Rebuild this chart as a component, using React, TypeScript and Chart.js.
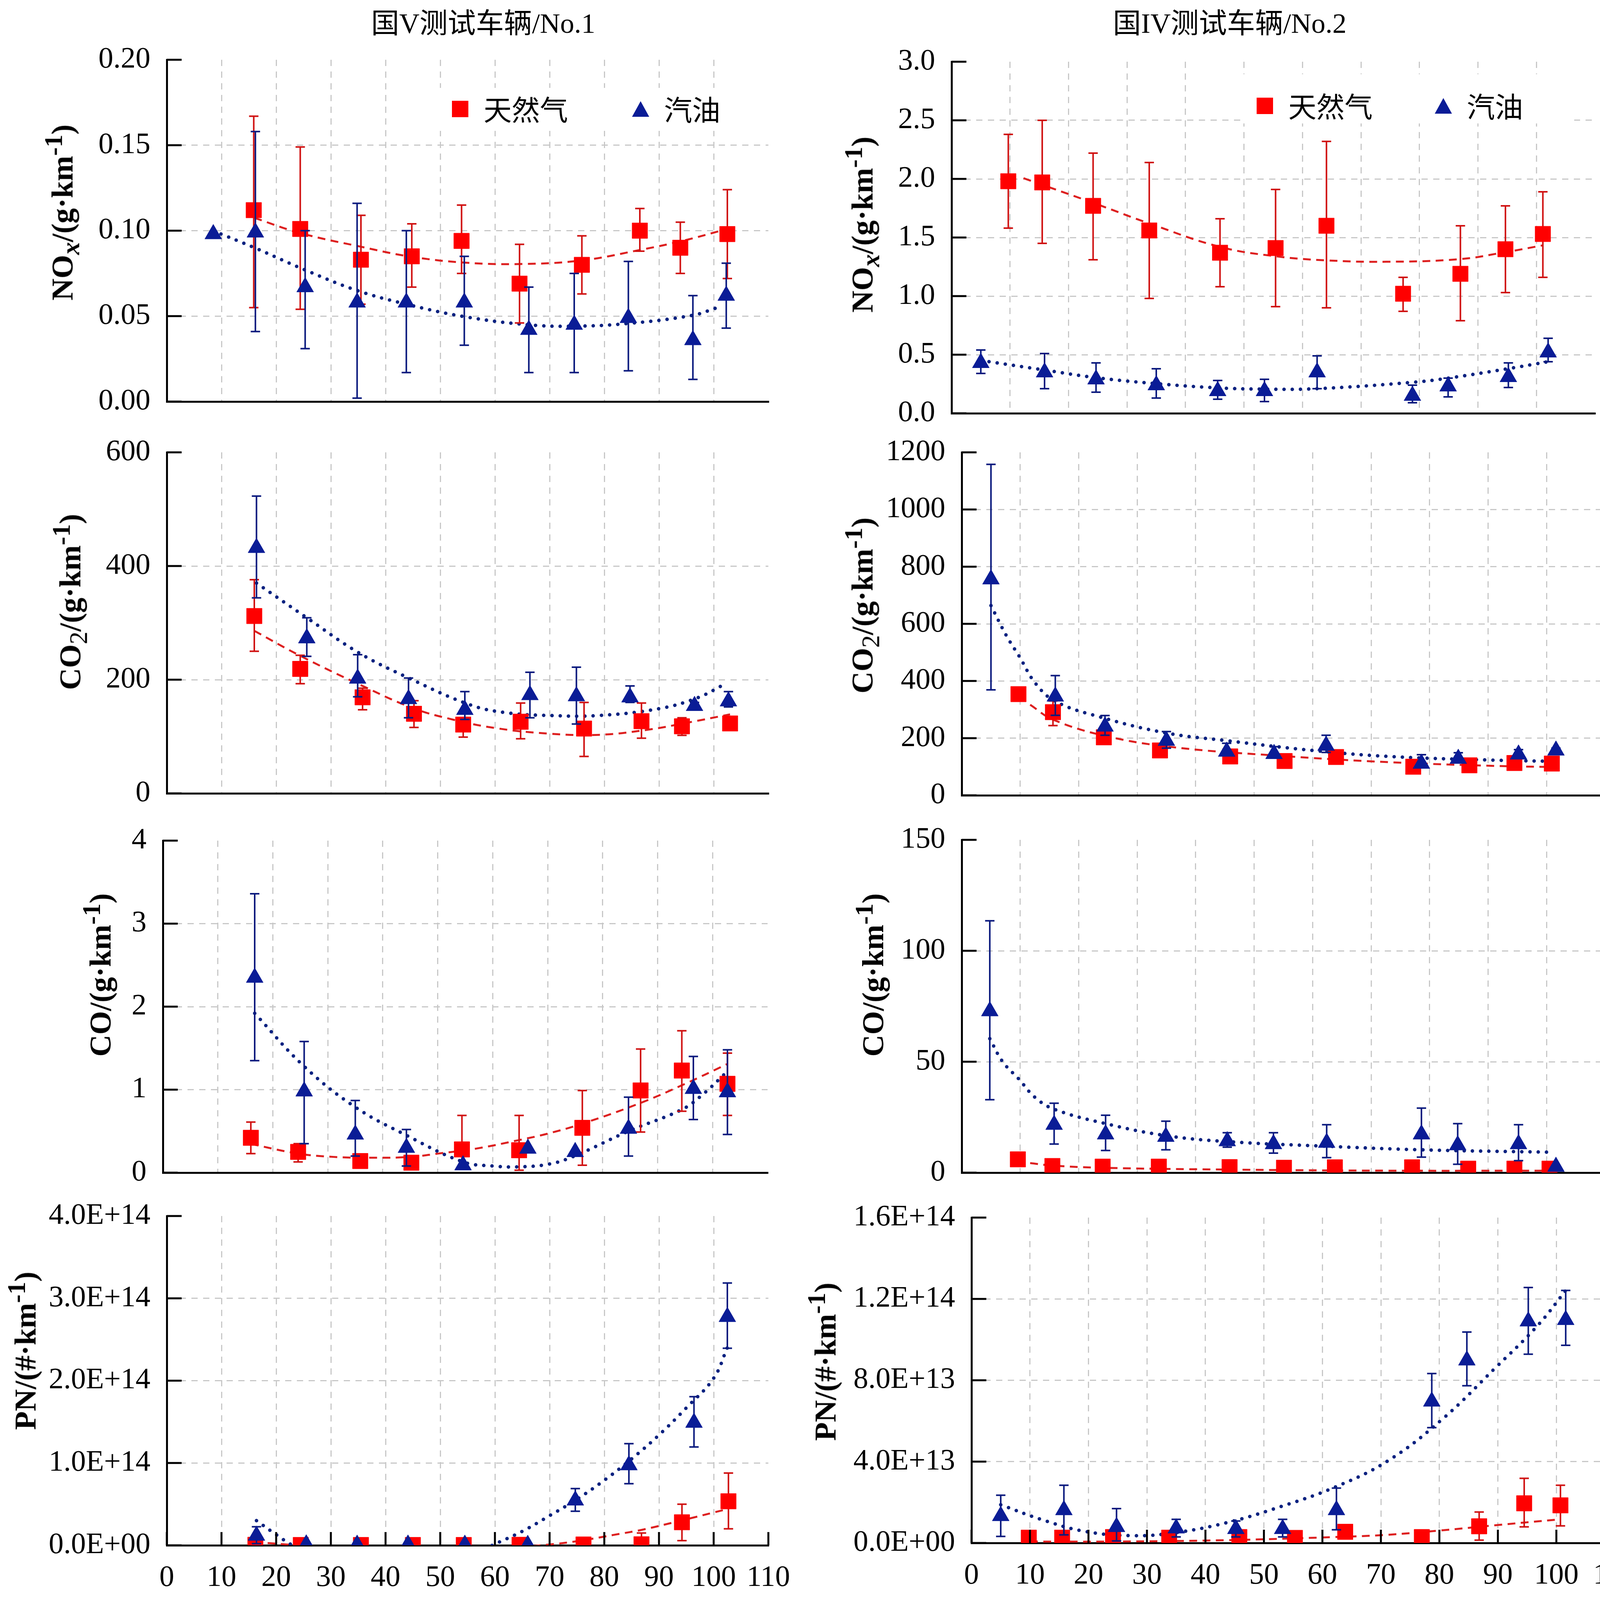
import { useEffect, useRef } from "react";
import { Chart, registerables } from "chart.js";

Chart.register(...registerables);

// x 轴刻度：车速
const speedTicks = [0, 10, 20, 30, 40, 50, 60, 70, 80, 90, 100, 110];

// 每个点: [车速, 均值, 下限, 上限]（没有误差线的点只有前两项）
// ---- NOx ----
const noxV_gas = [
  [15.9, 0.112, 0.055, 0.167], [24.4, 0.101, 0.054, 0.149], [35.5, 0.083, 0.057, 0.109],
  [44.8, 0.085, 0.067, 0.104], [53.9, 0.094, 0.075, 0.115], [64.5, 0.069, 0.046, 0.092],
  [75.9, 0.080, 0.063, 0.097], [86.5, 0.100, 0.088, 0.113], [93.9, 0.090, 0.075, 0.105],
  [102.5, 0.098, 0.072, 0.124],
];
const noxV_petrol = [
  [8.5, 0.098], [16.2, 0.099, 0.041, 0.158], [25.3, 0.067, 0.031, 0.100],
  [34.8, 0.058, 0.002, 0.116], [43.8, 0.058, 0.017, 0.100], [54.4, 0.058, 0.033, 0.085],
  [66.2, 0.042, 0.017, 0.067], [74.5, 0.045, 0.017, 0.075], [84.4, 0.049, 0.018, 0.082],
  [96.2, 0.036, 0.013, 0.062], [102.3, 0.062, 0.043, 0.081],
];
const noxV_gasFit = [
  [16, 0.1075], [24.4, 0.0986], [35.5, 0.0906], [44.8, 0.0847], [55, 0.0812], [65, 0.0805],
  [75.9, 0.0826], [86.5, 0.0887], [94, 0.0938], [102.5, 0.101],
];
const noxV_petrolFit = [
  [8.5, 0.0999], [16.2, 0.0898], [25.3, 0.077], [34.8, 0.065], [43.8, 0.057], [54.4, 0.0497],
  [66.2, 0.0449], [74.5, 0.0441], [84.4, 0.0457], [96.2, 0.0505], [100.5, 0.0548],
];

const noxIV_gas = [
  [9.7, 1.98, 1.58, 2.38], [15.5, 1.97, 1.45, 2.5], [24.2, 1.77, 1.31, 2.22],
  [33.8, 1.56, 0.98, 2.14], [45.9, 1.37, 1.08, 1.66], [55.4, 1.41, 0.91, 1.91],
  [64.1, 1.6, 0.9, 2.32], [77.2, 1.02, 0.87, 1.16], [87.0, 1.19, 0.79, 1.6],
  [94.7, 1.4, 1.03, 1.77], [101.1, 1.53, 1.16, 1.89],
];
const noxIV_petrol = [
  [5.0, 0.43, 0.34, 0.54], [15.9, 0.35, 0.21, 0.51], [24.7, 0.29, 0.18, 0.43],
  [35.0, 0.24, 0.13, 0.38], [45.5, 0.19, 0.12, 0.28], [53.5, 0.19, 0.1, 0.29],
  [62.5, 0.35, 0.21, 0.49], [78.8, 0.15, 0.09, 0.24], [84.9, 0.23, 0.14, 0.3],
  [95.2, 0.31, 0.22, 0.43], [102.0, 0.52, 0.44, 0.64],
];
const noxIV_gasFit = [
  [12.3, 2.006], [24.2, 1.796], [33.8, 1.62], [45.9, 1.42], [55.4, 1.34], [64.1, 1.305],
  [74.3, 1.293], [87, 1.316], [94.7, 1.375], [101.1, 1.433],
];
const noxIV_petrolFit = [
  [5, 0.451], [15.9, 0.369], [24.7, 0.304], [35, 0.253], [45.5, 0.217], [53.5, 0.206],
  [62.5, 0.21], [78.8, 0.264], [84.9, 0.3], [95.2, 0.381], [102, 0.44],
];

// ---- CO2 ----
const co2V_gas = [
  [16.0, 312, 250, 376], [24.4, 219, 193, 243], [35.8, 169, 147, 185], [45.2, 140, 116, 163],
  [54.2, 121, 99, 133], [64.7, 126, 96, 159], [76.3, 114, 65, 160], [86.8, 127, 97, 159],
  [94.2, 118, 102, 133], [103.0, 123],
];
const co2V_petrol = [
  [16.4, 432, 344, 523], [25.6, 273, 241, 309], [34.9, 202, 170, 244], [44.2, 166, 133, 203],
  [54.5, 147, 130, 179], [66.4, 173, 133, 213], [74.9, 171, 122, 222], [84.7, 169, 160, 189],
  [96.5, 154, 150, 160], [102.7, 162, 152, 179],
];
const co2V_gasFit = [
  [16, 286], [24.4, 242], [35.8, 189], [45, 150], [51.8, 131], [60, 115], [70, 105],
  [79, 103], [88, 112], [95, 124], [103, 139],
];
const co2V_petrolFit = [
  [16.4, 370], [25.6, 309], [35, 248], [44, 204], [55.4, 156], [62, 142], [70, 137],
  [79, 137], [90, 149], [97, 168], [102, 192],
];

const co2IV_gas = [
  [9.7, 354], [15.6, 291, 244, 330], [24.3, 203], [33.9, 157], [45.9, 136], [55.2, 120],
  [64.0, 134], [77.2, 100], [86.8, 105], [94.5, 113], [100.9, 111],
];
const co2IV_petrol = [
  [5.0, 756, 369, 1158], [16.0, 346, 280, 419], [24.5, 241, 210, 279], [35.0, 191, 165, 223],
  [45.3, 153, 140, 182], [53.4, 145, 130, 170], [62.3, 174, 150, 210], [78.6, 111, 100, 142],
  [84.9, 128, 115, 149], [95.2, 143, 130, 160], [101.6, 157, 150, 165],
];
const co2IV_gasFit = [
  [11.7, 317], [15.6, 265], [24.5, 208], [36.3, 168], [54.6, 138], [73, 116], [91, 103], [101, 99],
];
const co2IV_petrolFit = [
  [5, 664], [7.6, 560], [9.9, 484], [12.6, 392], [16, 329], [23.5, 275], [35, 218],
  [45.4, 191], [60, 157], [73, 136], [91, 123], [101, 119],
];

// ---- CO ----
const coV_gas = [
  [16.0, 0.42, 0.23, 0.61], [24.6, 0.25, 0.13, 0.35], [35.9, 0.14], [45.2, 0.12],
  [54.4, 0.28, 0.05, 0.69], [64.8, 0.27, 0.03, 0.69], [76.3, 0.54, 0.09, 0.99],
  [86.9, 0.99, 0.49, 1.49], [94.4, 1.23, 0.74, 1.71], [102.7, 1.07, 0.69, 1.44],
];
const coV_petrol = [
  [16.7, 2.35, 1.35, 3.36], [25.7, 0.98, 0.35, 1.58], [35.0, 0.46, 0.2, 0.87],
  [44.3, 0.3, 0.08, 0.52], [54.6, 0.09], [66.4, 0.29], [75.0, 0.25],
  [84.7, 0.53, 0.2, 0.91], [96.5, 1.01, 0.64, 1.4], [102.7, 0.97, 0.46, 1.48],
];
const coV_gasFit = [
  [16, 0.346], [24.6, 0.23], [31, 0.19], [38.4, 0.18], [45, 0.19], [50.1, 0.23], [57, 0.29],
  [64.6, 0.39], [70, 0.47], [76.3, 0.59], [86.9, 0.84], [95, 1.07], [102.7, 1.31],
];
const coV_petrolFit = [
  [16.7, 1.92], [25.7, 1.28], [35, 0.79], [44.3, 0.45], [54.6, 0.13], [60, 0.08], [64.6, 0.07],
  [70, 0.1], [74.5, 0.19], [84.7, 0.5], [94.4, 0.76], [98, 0.93], [102.7, 1.22],
];

const coIV_gas = [
  [9.6, 6.0], [15.5, 3.0], [24.1, 2.7], [33.7, 2.7], [45.8, 2.5], [55.1, 2.2],
  [63.8, 2.4], [77.0, 2.4], [86.6, 1.8], [94.5, 1.8], [100.5, 1.8],
];
const coIV_petrol = [
  [4.8, 72.8, 32.9, 113.5], [15.8, 21.6, 12.9, 31.3], [24.6, 17.3, 10.0, 25.9],
  [34.9, 16.2, 10.3, 23.2], [45.4, 14.2, 11.5, 18.0], [53.3, 12.9, 8.8, 18.0],
  [62.4, 13.5, 6.8, 21.6], [78.6, 17.3, 7.0, 29.1], [84.8, 12.4, 3.8, 22.1],
  [95.2, 12.9, 5.4, 21.6], [101.6, 2.7],
];
const coIV_gasFit = [[11.7, 4.3], [15.5, 3.2], [24.1, 2.2], [45, 1.4], [73, 0.9], [101, 0.9]];
const coIV_petrolFit = [
  [4.8, 60.4], [7, 50], [9.8, 42.1], [12.5, 34], [15.8, 28.6], [24.6, 22.1], [34.9, 16.7],
  [45.4, 14.0], [62.4, 11.9], [78.6, 10.3], [101, 9.2],
];

// ---- PN ----
const pnV_gas = [
  [16.2, 0.006e14], [24.5, 0.004e14], [35.5, 0.004e14], [45.0, 0.004e14], [54.3, 0.004e14],
  [64.5, 0.006e14], [76.2, 0.01e14], [86.8, 0.012e14, 0.0, 0.15e14],
  [94.2, 0.28e14, 0.057e14, 0.5e14], [102.7, 0.535e14, 0.2e14, 0.878e14],
];
const pnV_petrol = [
  [16.4, 0.118e14, 0.02e14, 0.225e14], [25.5, 0.012e14], [34.8, 0.008e14], [44.1, 0.01e14],
  [54.5, 0.008e14], [66.0, 0.006e14], [74.7, 0.546e14, 0.414e14, 0.689e14],
  [84.5, 0.974e14, 0.749e14, 1.235e14], [96.4, 1.49e14, 1.195e14, 1.806e14],
  [102.5, 2.775e14, 2.394e14, 3.186e14],
];
const pnV_gasFit = [
  [16, 0.04e14], [22, 0.01e14], [30, -0.03e14], [45, -0.06e14], [60, -0.04e14], [70, 0.01e14],
  [76, 0.06e14], [82, 0.13e14], [87, 0.19e14], [94, 0.3e14], [102.5, 0.44e14],
];
const pnV_petrolFit = [
  [16.4, 0.3e14], [20, 0.13e14], [23, 0.0], [30, -0.22e14], [40, -0.38e14], [50, -0.3e14],
  [59.5, 0.0], [65, 0.17e14], [70, 0.36e14], [75, 0.56e14], [80, 0.79e14], [85, 1.05e14],
  [90, 1.34e14], [95, 1.67e14], [100, 2.03e14], [102.5, 2.4e14],
];

const pnIV_gas = [
  [9.8, 0.026e14], [15.5, 0.026e14], [24.2, 0.029e14], [33.8, 0.026e14], [45.8, 0.029e14],
  [55.3, 0.025e14], [63.9, 0.055e14], [77.0, 0.029e14], [86.8, 0.082e14, 0.014e14, 0.152e14],
  [94.5, 0.195e14, 0.079e14, 0.318e14], [100.7, 0.185e14, 0.084e14, 0.284e14],
];
const pnIV_petrol = [
  [5.0, 0.133e14, 0.032e14, 0.235e14], [15.8, 0.162e14, 0.04e14, 0.284e14],
  [24.8, 0.079e14, 0.01e14, 0.169e14], [35.0, 0.072e14, 0.03e14, 0.116e14],
  [45.2, 0.069e14, 0.03e14, 0.108e14], [53.2, 0.069e14, 0.03e14, 0.116e14],
  [62.4, 0.162e14, 0.065e14, 0.27e14], [78.7, 0.696e14, 0.567e14, 0.833e14],
  [84.7, 0.898e14, 0.773e14, 1.037e14], [95.2, 1.09e14, 0.928e14, 1.256e14],
  [101.6, 1.097e14, 0.972e14, 1.242e14],
];
const pnIV_gasFit = [
  [10, 0.007e14], [25, 0.007e14], [43.8, 0.014e14], [62, 0.029e14], [71, 0.04e14],
  [80, 0.061e14], [89.5, 0.087e14], [100.5, 0.116e14],
];
const pnIV_petrolFit = [
  [5, 0.188e14], [11.9, 0.116e14], [19.2, 0.058e14], [27.4, 0.036e14], [34.7, 0.05e14],
  [43.8, 0.101e14], [53, 0.18e14], [62.1, 0.274e14], [71.2, 0.404e14], [80.4, 0.606e14],
  [89.5, 0.859e14], [96.8, 1.069e14], [101.8, 1.249e14],
];

// y 轴刻度与标签
const noxVTicks = [0, 0.05, 0.1, 0.15, 0.2];
const noxVLabels = ["0.00", "0.05", "0.10", "0.15", "0.20"];
const noxIVTicks = [0, 0.5, 1, 1.5, 2, 2.5, 3];
const noxIVLabels = ["0.0", "0.5", "1.0", "1.5", "2.0", "2.5", "3.0"];
const co2VTicks = [0, 200, 400, 600];
const co2VLabels = ["0", "200", "400", "600"];
const co2IVTicks = [0, 200, 400, 600, 800, 1000, 1200];
const co2IVLabels = ["0", "200", "400", "600", "800", "1000", "1200"];
const coVTicks = [0, 1, 2, 3, 4];
const coVLabels = ["0", "1", "2", "3", "4"];
const coIVTicks = [0, 50, 100, 150];
const coIVLabels = ["0", "50", "100", "150"];
const pnVTicks = [0, 1e14, 2e14, 3e14, 4e14];
const pnVLabels = ["0.0E+00", "1.0E+14", "2.0E+14", "3.0E+14", "4.0E+14"];
const pnIVTicks = [0, 4e13, 8e13, 1.2e14, 1.6e14];
const pnIVLabels = ["0.0E+00", "4.0E+13", "8.0E+13", "1.2E+14", "1.6E+14"];

const GAS = { fill: "#ff0000", err: "#d01212", fit: "#dd1f1f" };
const PETROL = { fill: "#0a1c96", err: "#0b1a7e", fit: "#0a2280" };
const GRID = "#c8c8c8";
const SERIF = "'Liberation Serif', 'Times New Roman', 'Noto Sans CJK SC', serif";

// 误差线：在对应数据集绘制前画出
const errorBars = {
  id: "errorBars",
  beforeDatasetDraw(chart: any, args: any) {
    const ds = chart.data.datasets[args.index];
    if (!ds.errPts) return;
    const { ctx, chartArea: a } = chart;
    const x = chart.scales.x;
    const y = chart.scales.y;
    ctx.save();
    ctx.beginPath();
    ctx.rect(a.left, a.top, a.right - a.left, a.bottom - a.top);
    ctx.clip();
    ctx.strokeStyle = ds.errColor;
    ctx.lineWidth = 4;
    ds.errPts.forEach((p: number[]) => {
      if (p.length < 4) return;
      const px = x.getPixelForValue(p[0]);
      const lo = y.getPixelForValue(p[2]);
      const hi = y.getPixelForValue(p[3]);
      ctx.beginPath();
      ctx.moveTo(px, lo);
      ctx.lineTo(px, hi);
      ctx.moveTo(px - 12, lo);
      ctx.lineTo(px + 12, lo);
      ctx.moveTo(px - 12, hi);
      ctx.lineTo(px + 12, hi);
      ctx.stroke();
    });
    ctx.restore();
  },
};

// 朝内的刻度线
const innerTicks = {
  id: "innerTicks",
  afterDraw(chart: any, _args: any, opts: any) {
    const { ctx, chartArea: a } = chart;
    const x = chart.scales.x;
    const y = chart.scales.y;
    ctx.save();
    ctx.strokeStyle = "#000";
    ctx.lineWidth = 5;
    ctx.beginPath();
    y.ticks.forEach((t: any) => {
      const py = y.getPixelForValue(t.value);
      ctx.moveTo(a.left, py);
      ctx.lineTo(a.left + 38, py);
    });
    if (opts.showX) {
      x.ticks.forEach((t: any) => {
        const px = x.getPixelForValue(t.value);
        ctx.moveTo(px, a.bottom);
        ctx.lineTo(px, a.bottom - 34);
      });
    }
    ctx.stroke();
    ctx.restore();
  },
};

const toXY = (pts: number[][]) => pts.map((p) => ({ x: p[0], y: p[1] }));

function markers(pts: number[][], c: any, style: string, radius: number, order: number) {
  return {
    type: "scatter",
    data: toXY(pts),
    errPts: pts,
    errColor: c.err,
    pointStyle: style,
    pointRadius: radius,
    pointHoverRadius: radius,
    backgroundColor: c.fill,
    borderColor: c.fill,
    borderWidth: 1,
    clip: 0,
    order,
  };
}

function fitLine(pts: number[][], c: any, dotted: boolean, order: number) {
  return {
    type: "scatter",
    data: toXY(pts),
    showLine: true,
    pointRadius: 0,
    borderColor: c.fit,
    borderWidth: dotted ? 9 : 5,
    borderDash: dotted ? [0.1, 21] : [20, 14],
    borderCapStyle: dotted ? "round" : "butt",
    tension: 0.4,
    fill: false,
    clip: 0,
    order,
  };
}

// 画布四周留白（y 轴标签占用的内边距约 88px）
const ML = 330;
const MT = 100;
const MR = 120;

type PanelProps = {
  rect: { left: number; top: number; right: number; bottom: number };
  gas: number[][];
  petrol: number[][];
  gasFit: number[][];
  petrolFit: number[][];
  yTicks: number[];
  yLabels: string[];
  showX: boolean;
};

function Panel({ rect, gas, petrol, gasFit, petrolFit, yTicks, yLabels, showX }: PanelProps) {
  const canvasRef = useRef<HTMLCanvasElement | null>(null);
  const MB = showX ? 160 : 100;
  const width = rect.right - rect.left + ML + MR;
  const height = rect.bottom - rect.top + MT + MB;

  useEffect(() => {
    if (!canvasRef.current) return;
    const tickFont = { family: SERIF, size: 76 };
    const chart = new Chart(canvasRef.current, {
      type: "scatter",
      data: {
        datasets: [
          markers(petrol, PETROL, "triangle", 25, 0),
          markers(gas, GAS, "rect", 28, 1),
          fitLine(petrolFit, PETROL, true, 2),
          fitLine(gasFit, GAS, false, 3),
        ] as any,
      },
      options: {
        responsive: false,
        animation: false,
        devicePixelRatio: 1,
        events: [],
        layout: { padding: { left: 0, top: MT, right: MR, bottom: 0 } },
        plugins: {
          legend: { display: false },
          tooltip: { enabled: false },
          innerTicks: { showX },
        } as any,
        scales: {
          x: {
            type: "linear",
            min: 0,
            max: 110,
            afterBuildTicks: (s: any) => {
              s.ticks = speedTicks.map((v) => ({ value: v }));
            },
            afterFit: (s: any) => {
              s.height = MB;
            },
            grid: {
              color: (c: any) =>
                c.tick && (c.tick.value === 0 || c.tick.value === 110) ? "rgba(0,0,0,0)" : GRID,
              lineWidth: 3,
              drawTicks: false,
            },
            border: { display: true, color: "#000", width: 5, dash: [16, 14] },
            ticks: {
              display: showX,
              padding: 38,
              color: "#000",
              font: tickFont,
              autoSkip: false,
              maxRotation: 0,
              callback: (v: any) => String(v),
            },
          },
          y: {
            type: "linear",
            min: 0,
            max: yTicks[yTicks.length - 1],
            afterBuildTicks: (s: any) => {
              s.ticks = yTicks.map((v) => ({ value: v }));
            },
            afterFit: (s: any) => {
              s.width = ML;
            },
            grid: {
              color: (c: any) =>
                c.tick && (c.tick.value === 0 || c.tick.value === yTicks[yTicks.length - 1])
                  ? "rgba(0,0,0,0)"
                  : GRID,
              lineWidth: 3,
              drawTicks: false,
            },
            border: { display: true, color: "#000", width: 5, dash: [16, 14] },
            ticks: {
              padding: 42,
              color: "#000",
              font: tickFont,
              autoSkip: false,
              callback: (_v: any, i: number) => yLabels[i],
            },
          },
        },
      } as any,
      plugins: [errorBars, innerTicks],
    });
    return () => chart.destroy();
  }, []);

  return (
    <canvas
      ref={canvasRef}
      width={width}
      height={height}
      style={{ position: "absolute", left: rect.left - ML, top: rect.top - MT, width, height }}
    />
  );
}

const panels: PanelProps[] = [
  { rect: { left: 427, top: 153, right: 1967, bottom: 1028 }, gas: noxV_gas, petrol: noxV_petrol, gasFit: noxV_gasFit, petrolFit: noxV_petrolFit, yTicks: noxVTicks, yLabels: noxVLabels, showX: false },
  { rect: { left: 2436, top: 158, right: 4083, bottom: 1058 }, gas: noxIV_gas, petrol: noxIV_petrol, gasFit: noxIV_gasFit, petrolFit: noxIV_petrolFit, yTicks: noxIVTicks, yLabels: noxIVLabels, showX: false },
  { rect: { left: 427, top: 1158, right: 1967, bottom: 2031 }, gas: co2V_gas, petrol: co2V_petrol, gasFit: co2V_gasFit, petrolFit: co2V_petrolFit, yTicks: co2VTicks, yLabels: co2VLabels, showX: false },
  { rect: { left: 2462, top: 1158, right: 4109, bottom: 2036 }, gas: co2IV_gas, petrol: co2IV_petrol, gasFit: co2IV_gasFit, petrolFit: co2IV_petrolFit, yTicks: co2IVTicks, yLabels: co2IVLabels, showX: false },
  { rect: { left: 417, top: 2152, right: 1965, bottom: 3002 }, gas: coV_gas, petrol: coV_petrol, gasFit: coV_gasFit, petrolFit: coV_petrolFit, yTicks: coVTicks, yLabels: coVLabels, showX: false },
  { rect: { left: 2462, top: 2150, right: 4109, bottom: 3002 }, gas: coIV_gas, petrol: coIV_petrol, gasFit: coIV_gasFit, petrolFit: coIV_petrolFit, yTicks: coIVTicks, yLabels: coIVLabels, showX: false },
  { rect: { left: 427, top: 3113, right: 1967, bottom: 3956 }, gas: pnV_gas, petrol: pnV_petrol, gasFit: pnV_gasFit, petrolFit: pnV_petrolFit, yTicks: pnVTicks, yLabels: pnVLabels, showX: true },
  { rect: { left: 2487, top: 3117, right: 4134, bottom: 3950 }, gas: pnIV_gas, petrol: pnIV_petrol, gasFit: pnIV_gasFit, petrolFit: pnIV_petrolFit, yTicks: pnIVTicks, yLabels: pnIVLabels, showX: true },
];

function Text({ cx, cy, size, bold, rotate, children }: any) {
  return (
    <div
      style={{
        position: "absolute",
        left: cx,
        top: cy,
        transform: `translate(-50%, -50%)${rotate ? " rotate(-90deg)" : ""}`,
        fontFamily: SERIF,
        fontSize: size,
        fontWeight: bold ? "bold" : "normal",
        whiteSpace: "nowrap",
        lineHeight: 1,
        color: "#000",
      }}
    >
      {children}
    </div>
  );
}

const yTitles = [
  { cx: 159, cy: 544, kind: "nox" },
  { cx: 2207, cy: 575, kind: "nox" },
  { cx: 179, cy: 1541, kind: "co2" },
  { cx: 2207, cy: 1550, kind: "co2" },
  { cx: 249, cy: 2496, kind: "co" },
  { cx: 2227, cy: 2496, kind: "co" },
  { cx: 57, cy: 3458, kind: "pn" },
  { cx: 2105, cy: 3486, kind: "pn" },
];

function yTitle(kind: string) {
  if (kind === "nox")
    return (
      <>
        NO<sub style={{ fontStyle: "italic" }}>x</sub>/(g·km<sup>-1</sup>)
      </>
    );
  if (kind === "co2")
    return (
      <>
        CO<sub style={{ fontWeight: "normal" }}>2</sub>/(g·km<sup>-1</sup>)
      </>
    );
  if (kind === "co")
    return (
      <>
        CO/(g·km<sup>-1</sup>)
      </>
    );
  return (
    <>
      PN/(#·km<sup>-1</sup>)
    </>
  );
}

function Legend({ box, sqX, triX, cy }: any) {
  const cjk = { fontFamily: "'Noto Sans CJK SC', sans-serif", fontSize: 72, lineHeight: "72px" };
  return (
    <>
      <div style={{ position: "absolute", background: "#fff", ...box }} />
      <div style={{ position: "absolute", left: sqX - 21, top: cy - 21, width: 42, height: 42, background: GAS.fill }} />
      <div style={{ position: "absolute", left: sqX + 60, top: cy - 38, whiteSpace: "nowrap", ...cjk }}>天然气</div>
      <div
        style={{
          position: "absolute",
          left: triX - 22,
          top: cy - 20,
          width: 0,
          height: 0,
          borderLeft: "22px solid transparent",
          borderRight: "22px solid transparent",
          borderBottom: `40px solid ${PETROL.fill}`,
        }}
      />
      <div style={{ position: "absolute", left: triX + 60, top: cy - 38, whiteSpace: "nowrap", ...cjk }}>汽油</div>
    </>
  );
}

export default function App() {
  useEffect(() => {
    document.body.style.margin = "0";
  }, []);

  return (
    <div style={{ position: "absolute", left: 0, top: 0, width: 4189, height: 4220, background: "#fff", overflow: "hidden" }}>
      {panels.map((p, i) => (
        <Panel key={i} {...p} />
      ))}
      <Legend box={{ left: 1125, top: 225, width: 765, height: 110 }} sqX={1178} triX={1640} cy={279} />
      <Legend box={{ left: 3180, top: 190, width: 850, height: 126 }} sqX={3238} triX={3695} cy={271} />
      <Text cx={1237} cy={60} size={72}>国V测试车辆/No.1</Text>
      <Text cx={3148} cy={60} size={72}>国IV测试车辆/No.2</Text>
      {yTitles.map((t, i) => (
        <Text key={i} cx={t.cx} cy={t.cy} size={78} bold rotate>
          {yTitle(t.kind)}
        </Text>
      ))}
      <Text cx={1148} cy={4146} size={76}>
        车速/(km·h<sup>−1</sup>)
      </Text>
      <Text cx={3339} cy={4161} size={76}>
        车速/(km·h<sup>−1</sup>)
      </Text>
    </div>
  );
}
